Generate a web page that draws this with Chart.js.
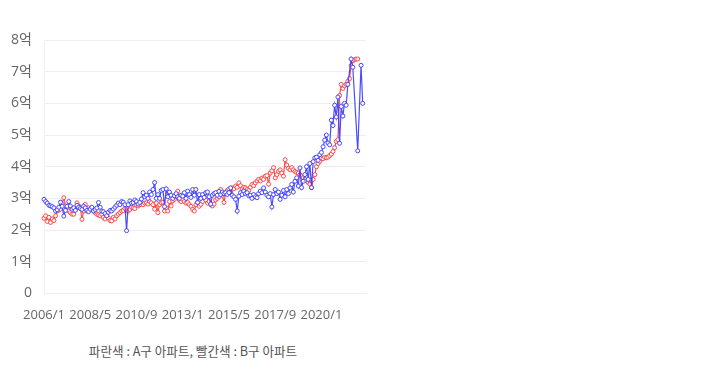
<!DOCTYPE html>
<html><head><meta charset="utf-8">
<script src="https://cdn.jsdelivr.net/npm/chart.js@4"></script>
<style>
html,body{margin:0;padding:0;background:#fff;}
#wrap{position:absolute;left:0;top:0;width:372px;height:329px;}
#cap{position:absolute;left:0;top:341px;width:386px;text-align:center;font:12.6px "Noto Sans CJK KR","Noto Sans",sans-serif;color:#555;}
</style></head><body>
<div id="wrap"><canvas id="c"></canvas></div>
<div id="cap">파란색 : A구 아파트, 빨간색 : B구 아파트</div>
<script>
const startYear = 2006;
const monthCount = 196;
const labels = [];
for (let i = 0; i < monthCount; i++) labels.push((startYear + Math.floor(i/12)) + '/' + (i%12 + 1));

const seriesA = [
2.97,2.90,2.85,2.78,2.76,2.74,2.70,2.60,2.64,2.72,2.88,2.75,
2.44,2.62,2.75,2.90,2.76,2.66,2.70,2.62,2.78,2.72,2.68,2.65,
2.75,2.70,2.62,2.58,2.66,2.72,2.60,2.65,2.70,2.87,2.72,2.60,
2.58,2.52,2.45,2.56,2.62,2.60,2.66,2.72,2.78,2.85,2.80,2.90,
2.88,2.80,1.98,2.80,2.92,2.85,2.87,2.95,2.90,2.82,2.87,2.98,
3.18,3.05,3.10,3.00,3.20,3.12,3.28,3.50,3.00,3.12,3.00,3.25,
3.28,2.74,3.30,3.05,3.20,3.10,3.00,3.08,3.15,3.05,3.00,3.10,
3.07,3.18,3.00,3.23,3.12,3.03,3.28,3.10,3.28,2.87,3.12,3.00,
3.12,3.03,3.18,3.20,3.05,2.82,3.10,3.15,3.18,3.10,3.22,3.12,
3.20,3.15,3.18,3.12,3.18,3.33,3.10,3.05,2.97,2.60,3.07,3.18,
3.12,3.23,3.15,3.18,3.08,3.10,3.00,3.12,3.05,3.02,3.15,3.23,
3.18,3.33,3.20,3.10,3.05,3.15,2.73,3.12,3.28,3.15,3.20,2.97,
3.10,3.25,3.05,3.28,3.15,3.33,3.44,3.20,3.54,3.65,3.39,3.96,
3.34,3.54,3.75,4.00,3.60,4.10,3.34,4.16,4.28,4.30,4.20,4.38,
4.45,4.63,4.84,5.00,4.75,4.69,5.47,5.30,5.94,5.57,6.20,4.74,
5.90,5.60,6.00,5.94,6.60,null,7.40,7.14,null,null,4.50,null,
7.20,6.00,null,null
];
const seriesB = [
2.37,2.45,2.27,2.40,2.24,2.35,2.30,2.45,2.60,2.63,2.66,2.81,
3.02,2.76,2.70,2.60,2.55,2.50,2.50,2.65,2.86,2.76,2.70,2.34,
2.60,2.81,2.60,2.70,2.65,2.66,2.60,2.55,2.50,2.48,2.45,2.50,
2.40,2.35,2.45,2.38,2.30,2.29,2.40,2.35,2.45,2.50,2.55,2.60,
2.62,2.68,2.60,2.60,2.65,2.72,2.70,2.68,2.78,2.76,2.80,2.87,
2.80,2.85,2.86,2.82,2.90,2.86,2.80,2.66,2.85,2.55,2.80,2.86,
2.88,2.60,2.70,2.60,2.90,2.76,2.92,2.97,3.05,3.23,2.95,2.90,
2.97,2.90,2.85,2.87,2.80,2.75,2.65,2.60,2.80,2.87,2.75,2.81,
2.90,3.07,2.95,2.85,2.90,2.80,2.76,2.82,2.95,3.00,3.05,3.28,
3.10,2.87,3.18,3.25,3.30,3.20,3.33,3.30,3.39,3.35,3.49,3.40,
3.30,3.35,3.33,3.28,3.25,3.35,3.44,3.40,3.49,3.55,3.60,3.55,
3.64,3.60,3.70,3.72,3.45,3.80,3.87,3.97,3.65,3.75,3.85,3.90,
3.80,3.70,4.22,4.05,3.95,3.90,3.97,3.90,3.85,3.82,3.80,3.75,
3.70,3.65,3.60,3.55,3.50,3.45,3.34,3.60,3.75,4.00,4.10,4.17,
4.27,4.25,4.30,4.28,4.30,4.35,4.40,4.48,4.60,4.80,4.85,6.25,
6.60,6.47,6.55,6.60,6.70,6.78,7.19,7.34,7.38,7.40,7.40,null,
null,null,null,null
];
const yTicks = [0,1,2,3,4,5,6,7,8];
const tickEvery = 28;
const tickFont = {family:'"Open Sans","Noto Sans CJK KR",sans-serif', size:13};
const yLabelFont = {family:'"Open Sans","Noto Sans CJK KR",sans-serif', size:14};

new Chart(document.getElementById('c'), {
  type: 'line',
  data: {
    labels: labels,
    datasets: [
      {label:'A구', data: seriesA, borderColor:'rgba(55,55,255,0.9)', backgroundColor:'#fff',
       pointBorderColor:'rgba(55,55,255,0.9)', pointBackgroundColor:'#fff', borderWidth:1.2,
       pointRadius:2, pointBorderWidth:1, spanGaps:true, tension:0},
      {label:'B구', data: seriesB, borderColor:'rgba(255,55,55,0.9)', backgroundColor:'#fff',
       pointBorderColor:'rgba(255,55,55,0.9)', pointBackgroundColor:'#fff', borderWidth:1.2,
       pointRadius:2, pointBorderWidth:1, spanGaps:true, tension:0}
    ]
  },
  options: {
    responsive:true, maintainAspectRatio:false, animation:false,
    layout:{padding:{top:40,left:0,right:6,bottom:0}},
    plugins:{legend:{display:false}, tooltip:{enabled:false}},
    scales:{
      x:{
        grid:{display:false},
        border:{display:true, color:'#eeeeee'},
        ticks:{autoSkip:false, maxRotation:0, minRotation:0, color:'#666', font:tickFont, padding:6,
          callback:function(v,i){ return (i % tickEvery === 0 && i <= 168) ? labels[i] : null; }}
      },
      y:{
        min:0, max:8,
        afterBuildTicks: function(ax){ ax.ticks = yTicks.map(v=>({value:v})); },
        afterFit: function(ax){ ax.width = 44; },
        grid:{color:'#eeeeee', drawTicks:false},
        border:{display:true, color:'#eeeeee'},
        ticks:{color:'#666', padding:12, font:yLabelFont,
          callback:function(v){ return v === 0 ? '0' : v + '억'; }}
      }
    }
  }
});
</script>
</body></html>
